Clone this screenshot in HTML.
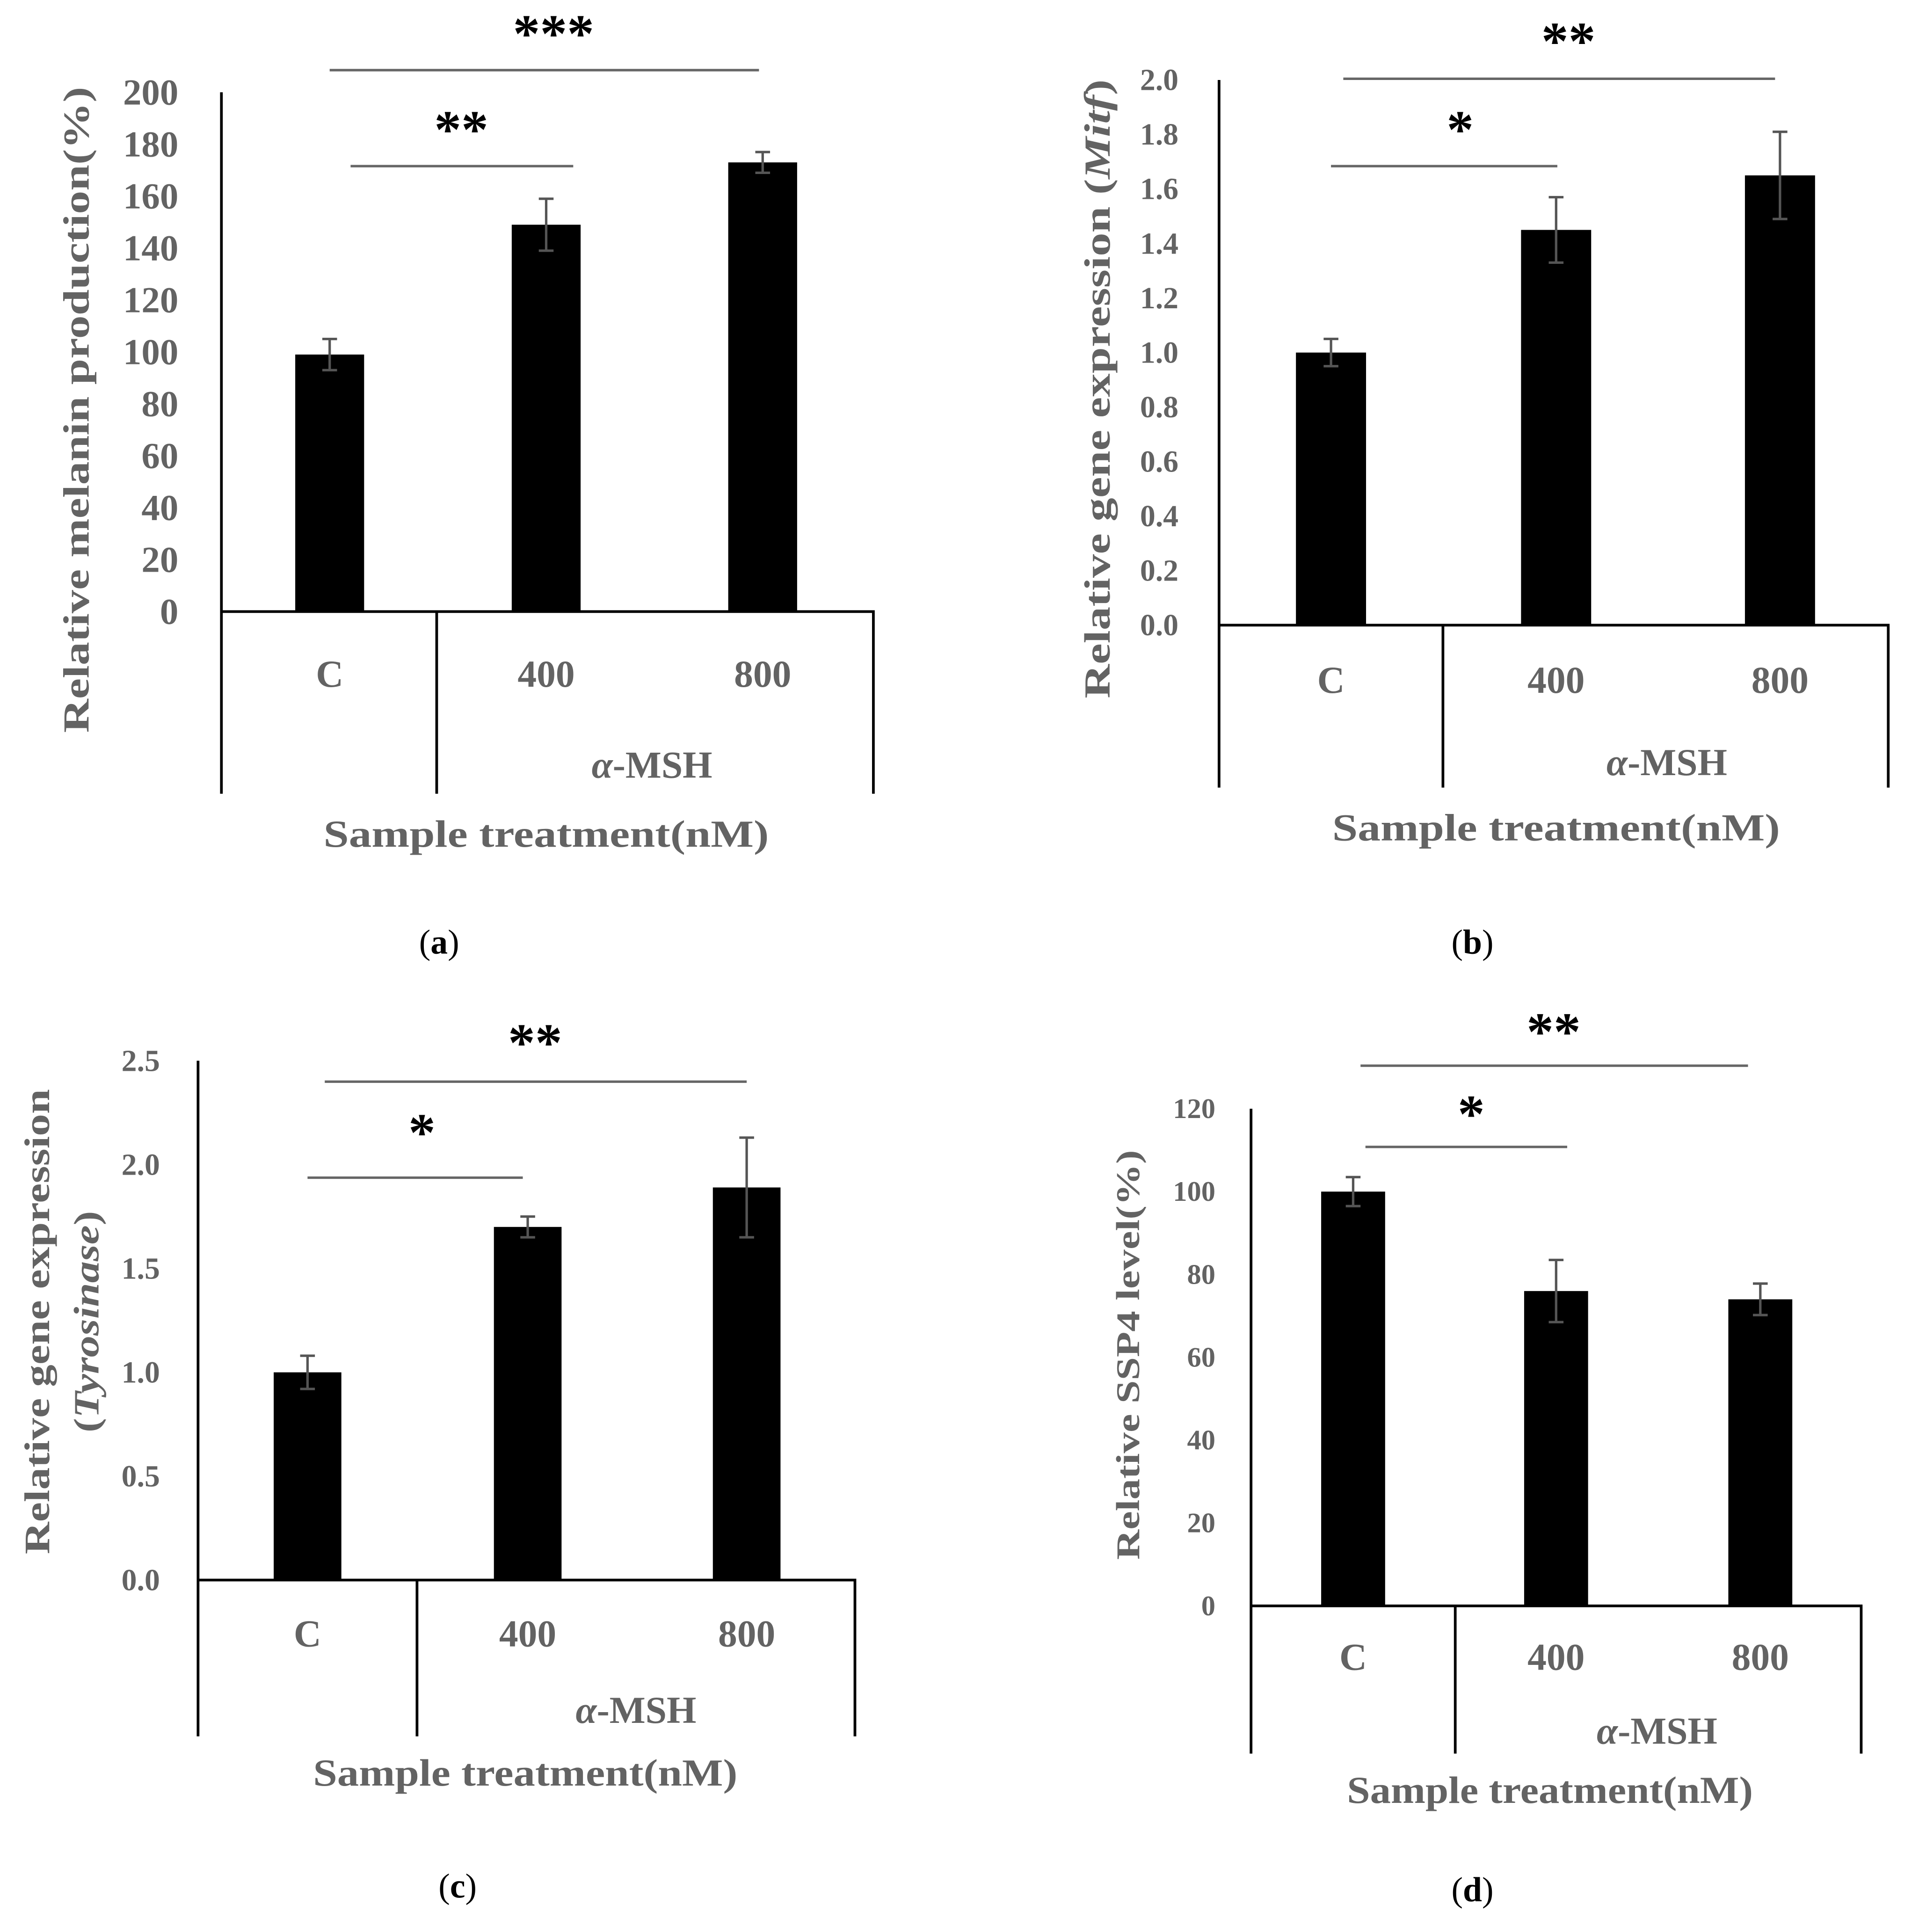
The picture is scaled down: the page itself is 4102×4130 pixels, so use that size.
<!DOCTYPE html>
<html><head><meta charset="utf-8"><style>
html,body{margin:0;padding:0;background:#fff;}
svg{display:block;}
text{font-family:"Liberation Serif",serif;}
</style></head><body>
<svg id="fig" width="4102" height="4130" viewBox="0 0 1560 1570" preserveAspectRatio="none" xmlns="http://www.w3.org/2000/svg"></svg>
<script>
const categories = ["C","400","800"];
const valuesA = [99,149,173];
const errorsA = [6,10,4];
const ticksA = [0,20,40,60,80,100,120,140,160,180,200];
const valuesB = [1.0,1.45,1.65];
const errorsB = [0.05,0.12,0.16];
const ticksB = [0,0.2,0.4,0.6,0.8,1.0,1.2,1.4,1.6,1.8,2.0];
const valuesC = [1.0,1.7,1.89];
const errorsC = [0.08,0.05,0.24];
const ticksC = [0,0.5,1.0,1.5,2.0,2.5];
const valuesD = [100,76,74];
const errorsD = [3.5,7.5,3.8];
const ticksD = [0,20,40,60,80,100,120];

const NS="http://www.w3.org/2000/svg";
const svg=document.getElementById('fig');
function mk(tag,attrs,parent,txt){const e=document.createElementNS(NS,tag);for(const k in attrs)e.setAttribute(k,attrs[k]);if(txt!==undefined)e.textContent=txt;(parent||svg).appendChild(e);return e;}

const panels=[
 {id:'a',vals:valuesA,errs:errorsA,ticks:ticksA,dec:0,ax:180,top:75,zero:497,right:710,mid:355,bottom:645,centers:[268,444,620],bw:56,labY:548,tickX:145,tickFs:30,
  msh:[530,622],sample:[444,678,362],ytitle:[{p:['Relative melanin production(%)'],x:72,len:525}],ytCY:333,ytFs:30,
  sig:[{x1:268,x2:617,y:57,s:'***',sx:450,sy:42},{x1:285,x2:466,y:135,s:'**',sx:375,sy:120}],cap:[357,775]},
 {id:'b',vals:valuesB,errs:errorsB,ticks:ticksB,dec:1,ax:991,top:65,zero:508,right:1535,mid:1173,bottom:640,centers:[1082,1265,1447],bw:57,labY:553,tickX:958,tickFs:25,
  msh:[1355,620],sample:[1265,673,364],ytitle:[{p:['Relative gene expression (','Mitf',')'],x:902,len:503}],ytCY:316,ytFs:30,
  sig:[{x1:1092,x2:1443,y:64,s:'**',sx:1275,sy:48},{x1:1082,x2:1266,y:135,s:'*',sx:1187,sy:120}],cap:[1197,775]},
 {id:'c',vals:valuesC,errs:errorsC,ticks:ticksC,dec:1,ax:161,top:862,zero:1284,right:695,mid:339,bottom:1411,centers:[250,429,607],bw:55,labY:1328,tickX:130,tickFs:25,
  msh:[517,1390],sample:[427,1441,345],ytitle:[{p:['Relative gene expression'],x:40,len:378},{p:['(','Tyrosinase',')'],x:80,len:180}],ytCY:1074,ytFs:29,
  sig:[{x1:264,x2:607,y:879,s:'**',sx:435,sy:862},{x1:250,x2:425,y:957,s:'*',sx:343,sy:935}],cap:[372,1542]},
 {id:'d',vals:valuesD,errs:errorsD,ticks:ticksD,dec:0,ax:1017,top:901,zero:1305,right:1513,mid:1183,bottom:1425,centers:[1100,1265,1431],bw:52,labY:1347,tickX:988,tickFs:23,
  msh:[1347,1407],sample:[1260,1455,330],ytitle:[{p:['Relative SSP4 level(%)'],x:926,len:333}],ytCY:1101,ytFs:27,
  sig:[{x1:1106,x2:1421,y:866,s:'**',sx:1263,sy:853},{x1:1110,x2:1274,y:932,s:'*',sx:1196,sy:920}],cap:[1197,1545]}
];

panels.forEach(p=>{
  const g=mk('g',{});
  
  
  const maxT=p.ticks[p.ticks.length-1];
  const y=v=>p.zero-(v/maxT)*(p.zero-p.top);
  const gray='#636363';
  p.ticks.forEach(t=>{
    const tl=mk('text',{x:p.tickX,y:y(t)+p.tickFs*0.33,'text-anchor':'end','font-size':p.tickFs,'font-weight':'bold',fill:gray},g,t.toFixed(p.dec));
    
    
  });
  p.vals.forEach((v,i)=>{
    const cx=p.centers[i];
    const b=mk('rect',{x:cx-p.bw/2,y:y(v),width:p.bw,height:p.zero-y(v),fill:'#000'},g);
    
    
    const e=p.errs[i];
    const eb=mk('path',{d:`M${cx},${y(v+e)}V${y(v-e)}M${cx-6},${y(v+e)}H${cx+6}M${cx-6},${y(v-e)}H${cx+6}`,stroke:'#555','stroke-width':2,fill:'none'},g);
    
    
    const cl=mk('text',{x:cx,y:p.labY+10,'text-anchor':'middle','font-size':31,'font-weight':'bold',fill:gray},g,categories[i]);
    
    
  });
  const ax=mk('path',{d:`M${p.ax},${p.top}V${p.bottom}M${p.ax},${p.zero}H${p.right}V${p.bottom}M${p.mid},${p.zero}V${p.bottom}`,stroke:'#000','stroke-width':2.2,fill:'none'},g);
  
  
  const m=mk('text',{x:p.msh[0],y:p.msh[1]+10,'text-anchor':'middle','font-size':31,'font-weight':'bold',fill:gray},g);
  mk('tspan',{'font-style':'italic'},m,'α');
  mk('tspan',{},m,'-MSH');
  
  
  const s=mk('text',{x:p.sample[0],y:p.sample[1]+10,'text-anchor':'middle','font-size':31,'font-weight':'bold',fill:gray,textLength:p.sample[2],lengthAdjust:'spacingAndGlyphs'},g,'Sample treatment(nM)');
  
  
  p.ytitle.forEach(yt=>{
    const t=mk('text',{x:0,y:0,'text-anchor':'middle','font-size':p.ytFs,'font-weight':'bold',fill:gray,textLength:yt.len,lengthAdjust:'spacingAndGlyphs',transform:`translate(${yt.x},${p.ytCY}) rotate(-90)`},g);
    yt.p.forEach((part,k)=>{ mk('tspan',k===1?{'font-style':'italic'}:{},t,part); });
    
    
  });
  p.sig.forEach(sg=>{
    const l=mk('line',{x1:sg.x1,x2:sg.x2,y1:sg.y,y2:sg.y,stroke:'#666','stroke-width':2},g);
    
    
    const st=mk('text',{x:sg.sx,y:sg.sy,'text-anchor':'middle','font-size':44,'font-weight':'bold',fill:'#000'},g,sg.s);
    
    
  });
  const c=mk('text',{x:p.cap[0],y:p.cap[1],'text-anchor':'middle','font-size':28,fill:'#000'},g);
  mk('tspan',{},c,'(');
  mk('tspan',{'font-weight':'bold'},c,p.id);
  mk('tspan',{},c,')');
  
  
});
</script>
</body></html>
